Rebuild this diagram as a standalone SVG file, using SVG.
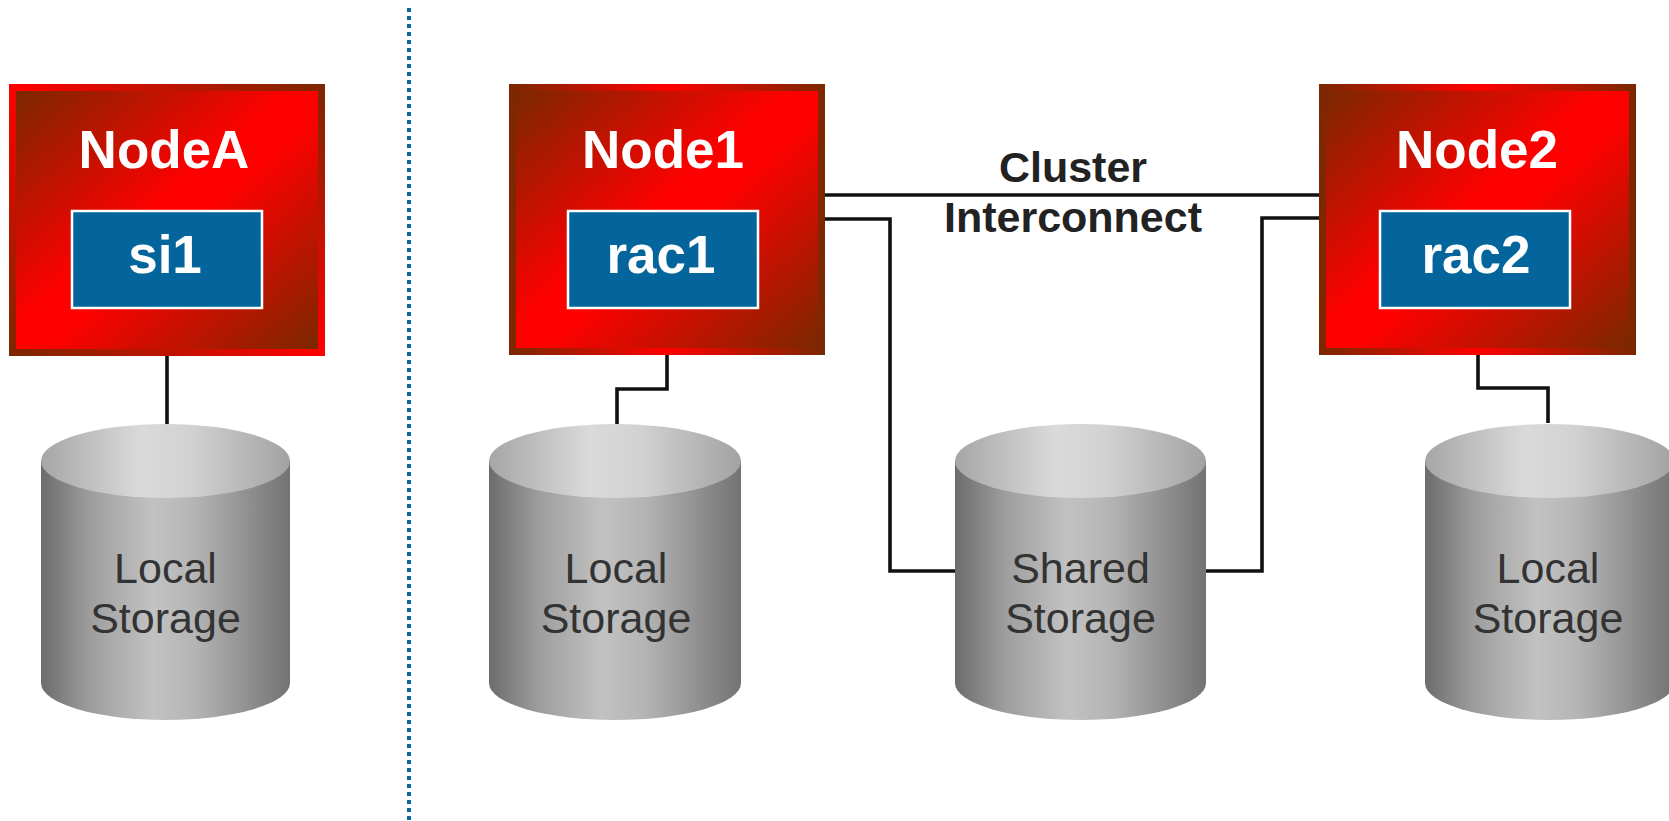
<svg xmlns="http://www.w3.org/2000/svg" width="1669" height="821" viewBox="0 0 1669 821">
<defs>
<linearGradient id="fillG" x1="0" y1="0" x2="1" y2="1">
<stop offset="0" stop-color="#7a2800"/>
<stop offset="0.46" stop-color="#ff0000"/>
<stop offset="0.54" stop-color="#ff0000"/>
<stop offset="1" stop-color="#7a2800"/>
</linearGradient>
<linearGradient id="borderH" x1="0" y1="0" x2="1" y2="0">
<stop offset="0" stop-color="#7a2800"/>
<stop offset="0.5" stop-color="#ff0000"/>
<stop offset="1" stop-color="#7a2800"/>
</linearGradient>
<linearGradient id="borderD" x1="1" y1="0" x2="0" y2="1">
<stop offset="0" stop-color="#7a2800"/>
<stop offset="0.5" stop-color="#ff0000"/>
<stop offset="1" stop-color="#7a2800"/>
</linearGradient>
<linearGradient id="bodyG" x1="0" y1="0" x2="1" y2="0">
<stop offset="0" stop-color="#6c6c6c"/>
<stop offset="0.2" stop-color="#9e9e9e"/>
<stop offset="0.45" stop-color="#c2c2c2"/>
<stop offset="0.62" stop-color="#b4b4b4"/>
<stop offset="1" stop-color="#737373"/>
</linearGradient>
<linearGradient id="topG" x1="0" y1="0" x2="1" y2="0">
<stop offset="0" stop-color="#a6a6a6"/>
<stop offset="0.4" stop-color="#dadada"/>
<stop offset="0.6" stop-color="#d2d2d2"/>
<stop offset="1" stop-color="#a2a2a2"/>
</linearGradient>
</defs>
<style>
.title{font-family:"Liberation Sans",Arial,sans-serif;font-weight:bold;font-size:53px;fill:#ffffff;text-anchor:middle}
.inner{fill:#03659b;stroke:#ffffff;stroke-width:2.5}
.lbl{font-family:"Liberation Sans",Arial,sans-serif;font-size:43px;fill:#333333;text-anchor:middle}
.ic{font-family:"Liberation Sans",Arial,sans-serif;font-weight:bold;font-size:43px;fill:#222222;text-anchor:middle}
.wire{fill:none;stroke:#111111;stroke-width:3.6}
.body{fill:url(#bodyG)}
.top{fill:url(#topG)}
</style>

<line x1="409" y1="8" x2="409" y2="821" stroke="#0a679e" stroke-width="4" stroke-dasharray="4 4"/>

<g id="connectors">
<path class="wire" d="M167,356 V425"/>
<path class="wire" d="M667,355 V389 H617 V424"/>
<path class="wire" d="M1478,355 V388 H1548 V423"/>
<path class="wire" d="M825,195 H1319"/>
<path class="wire" d="M825,219 H890 V571 H956"/>
<path class="wire" d="M1319,218 H1262 V571 H1205"/>
</g>

<g id="nodeA">
<rect x="9" y="84" width="316" height="272" fill="url(#borderD)"/>
<rect x="16" y="91" width="302" height="258" fill="url(#fillG)"/>
<text class="title" x="164" y="168">NodeA</text>
<g id="si1">
<rect class="inner" x="72" y="211" width="190" height="97"/>
<text class="title" x="165" y="273">si1</text>
</g>
</g>

<g id="node1">
<rect x="509" y="84" width="316" height="271" fill="url(#borderH)"/>
<rect x="516" y="91" width="302" height="257" fill="url(#fillG)"/>
<text class="title" x="663" y="168">Node1</text>
<g id="rac1">
<rect class="inner" x="568" y="211" width="190" height="97"/>
<text class="title" x="661" y="273">rac1</text>
</g>
</g>

<g id="node2">
<rect x="1319" y="84" width="317" height="271" fill="url(#borderH)"/>
<rect x="1326" y="91" width="303" height="257" fill="url(#fillG)"/>
<text class="title" x="1477" y="168">Node2</text>
<g id="rac2">
<rect class="inner" x="1380" y="211" width="190" height="97"/>
<text class="title" x="1476" y="273">rac2</text>
</g>
</g>

<g id="clusterInterconnect">
<text class="ic" x="1073" y="182">Cluster</text>
<text class="ic" x="1073" y="232">Interconnect</text>
</g>

<g id="localStorageA">
<path class="body" d="M41,461 V683 A124.5,37 0 0 0 290,683 V461 Z"/>
<ellipse class="top" cx="165.5" cy="461" rx="124.5" ry="37"/>
<text class="lbl" x="165.5" y="583">Local</text>
<text class="lbl" x="165.5" y="633">Storage</text>
</g>

<g id="localStorage1">
<path class="body" d="M489,461 V683 A126,37 0 0 0 741,683 V461 Z"/>
<ellipse class="top" cx="615" cy="461" rx="126" ry="37"/>
<text class="lbl" x="616" y="583">Local</text>
<text class="lbl" x="616" y="633">Storage</text>
</g>

<g id="sharedStorage">
<path class="body" d="M955,461 V683 A125.5,37 0 0 0 1206,683 V461 Z"/>
<ellipse class="top" cx="1080.5" cy="461" rx="125.5" ry="37"/>
<text class="lbl" x="1080.5" y="583">Shared</text>
<text class="lbl" x="1080.5" y="633">Storage</text>
</g>

<g id="localStorage2">
<path class="body" d="M1425,461 V683 A124.5,37 0 0 0 1674,683 V461 Z"/>
<ellipse class="top" cx="1549.5" cy="461" rx="124.5" ry="37"/>
<text class="lbl" x="1548" y="583">Local</text>
<text class="lbl" x="1548" y="633">Storage</text>
</g>
</svg>
